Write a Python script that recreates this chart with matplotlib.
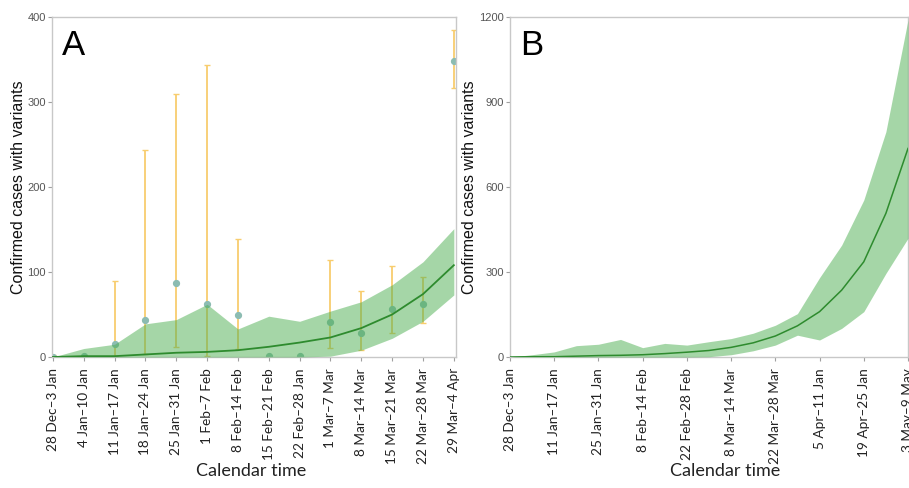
import numpy as np
import matplotlib
matplotlib.use("Agg")
import matplotlib.pyplot as plt

# panel A: weekly observed counts and model fit
weeks_a = ["28 Dec–3 Jan", "4 Jan–10 Jan", "11 Jan–17 Jan", "18 Jan–24 Jan",
           "25 Jan–31 Jan", "1 Feb–7 Feb", "8 Feb–14 Feb", "15 Feb–21 Feb",
           "22 Feb–28 Jan", "1 Mar–7 Mar", "8 Mar–14 Mar", "15 Mar–21 Mar",
           "22 Mar–28 Mar", "29 Mar–4 Apr"]
fit_a = [0, 1, 1, 3, 5, 6, 8, 12, 17, 23, 34, 50, 74, 108]
fit_hi_a = [0, 10, 15, 39, 44, 62, 33, 48, 42, 54, 65, 85, 112, 151]
fit_lo_a = [0, 0, 0, 0, 0, 0, 0, 0, 0, 1, 8, 22, 42, 73]
obs_a = [0, 1, 15, 44, 87, 62, 49, 1, 1, 41, 28, 56, 62, 348]
obs_lo_a = [0, np.nan, 1, 3, 12, 1, 10, np.nan, np.nan, 11, 8, 28, 40, 316]
obs_hi_a = [2, np.nan, 90, 243, 310, 343, 139, np.nan, np.nan, 114, 78, 107, 94, 385]

# panel B: projection
weeks_b = ["28 Dec–3 Jan", "11 Jan–17 Jan", "25 Jan–31 Jan", "8 Feb–14 Feb",
           "22 Feb–28 Feb", "8 Mar–14 Mar", "22 Mar–28 Mar", "5 Apr–11 Jan",
           "19 Apr–25 Jan", "3 May–9 May"]
fit_b = [0, 1, 1, 3, 5, 6, 8, 12, 17, 23, 34, 50, 74, 110, 160, 236, 336, 507, 736]
fit_hi_b = [0, 8, 18, 40, 45, 62, 33, 48, 42, 54, 65, 84, 112, 153, 280, 395, 554, 795, 1190]
fit_lo_b = [0, 0, 0, 0, 0, 0, 0, 0, 0, 1, 8, 22, 42, 77, 60, 101, 160, 295, 419]

band_col = "#4caf50"
line_col = "#2e8b2e"
pt_col = "#8cbcb2"
err_col = "#f8cd6e"
grey = "#a0a0a0"
tick_font = "Lato"

fig = plt.figure(figsize=(9.09, 4.88), dpi=100)
W, H = 909, 488


def make_axes(l, r, t, b):
    return fig.add_axes([l / W, 1 - b / H, (r - l) / W, (b - t) / H])


def style(ax, ymax, step):
    for s in ax.spines.values():
        s.set_color("#c8c8c8")
        s.set_linewidth(1.0)
    ax.set_ylim(0, ymax)
    ax.set_yticks(np.arange(0, ymax + 1, step))
    ax.tick_params(axis="y", colors="#555555", labelsize=8, length=3, width=0.8, pad=1.5)
    ax.tick_params(axis="y", color=grey)
    ax.tick_params(axis="x", length=3, width=0.8, color=grey, labelsize=9.8,
                   labelcolor="#222222", pad=5)
    for lab in ax.get_yticklabels():
        lab.set_family("Liberation Sans")


# ---- A ----
ax1 = make_axes(52, 456, 17, 357)
x_a = np.arange(len(weeks_a))
lo = np.array(obs_a) - np.array(obs_lo_a)
hi = np.array(obs_hi_a) - np.array(obs_a)
ax1.errorbar(x_a, obs_a, yerr=[lo, hi], fmt="none", ecolor=err_col, elinewidth=1.3,
             capsize=2, capthick=1, zorder=1)
ax1.plot(x_a, obs_a, "o", color=pt_col, ms=4.2, zorder=2)
ax1.fill_between(x_a, fit_lo_a, fit_hi_a, color=band_col, alpha=0.5, lw=0, zorder=3)
ax1.plot(x_a, fit_a, color=line_col, lw=1.3, zorder=4)
ax1.set_xlim(-0.03, 13.07)
style(ax1, 400, 100)
ax1.set_xticks(x_a)
ax1.set_xticklabels(weeks_a, rotation=90, family=tick_font)
ax1.text(0.025, 0.965, "A", transform=ax1.transAxes, fontsize=25, va="top",
         family="Liberation Sans")

# ---- B ----
ax2 = make_axes(510, 908, 17, 357)
x_b = np.arange(len(fit_b))
ax2.fill_between(x_b, fit_lo_b, fit_hi_b, color=band_col, alpha=0.5, lw=0, zorder=3)
ax2.plot(x_b, fit_b, color=line_col, lw=1.1, zorder=4)
ax2.set_xlim(0, 18)
style(ax2, 1200, 300)
ax2.set_xticks(x_b[::2])
ax2.set_xticklabels(weeks_b, rotation=90, family=tick_font)
ax2.text(0.025, 0.965, "B", transform=ax2.transAxes, fontsize=25, va="top",
         family="Liberation Sans")

# axis titles
ylab = "Confirmed cases with variants"
fig.text(19 / W, 1 - 187 / H, ylab, rotation=90, ha="center", va="center",
         fontsize=11.5, family="Liberation Sans", color="#111111")
fig.text(470 / W, 1 - 187 / H, ylab, rotation=90, ha="center", va="center",
         fontsize=11.5, family="Liberation Sans", color="#111111")
fig.text(251 / W, 1 - 471 / H, "Calendar time", ha="center", va="center",
         fontsize=13, family=tick_font, color="#222222")
fig.text(725 / W, 1 - 471 / H, "Calendar time", ha="center", va="center",
         fontsize=13, family=tick_font, color="#222222")

fig.savefig("out.png", dpi=100)
